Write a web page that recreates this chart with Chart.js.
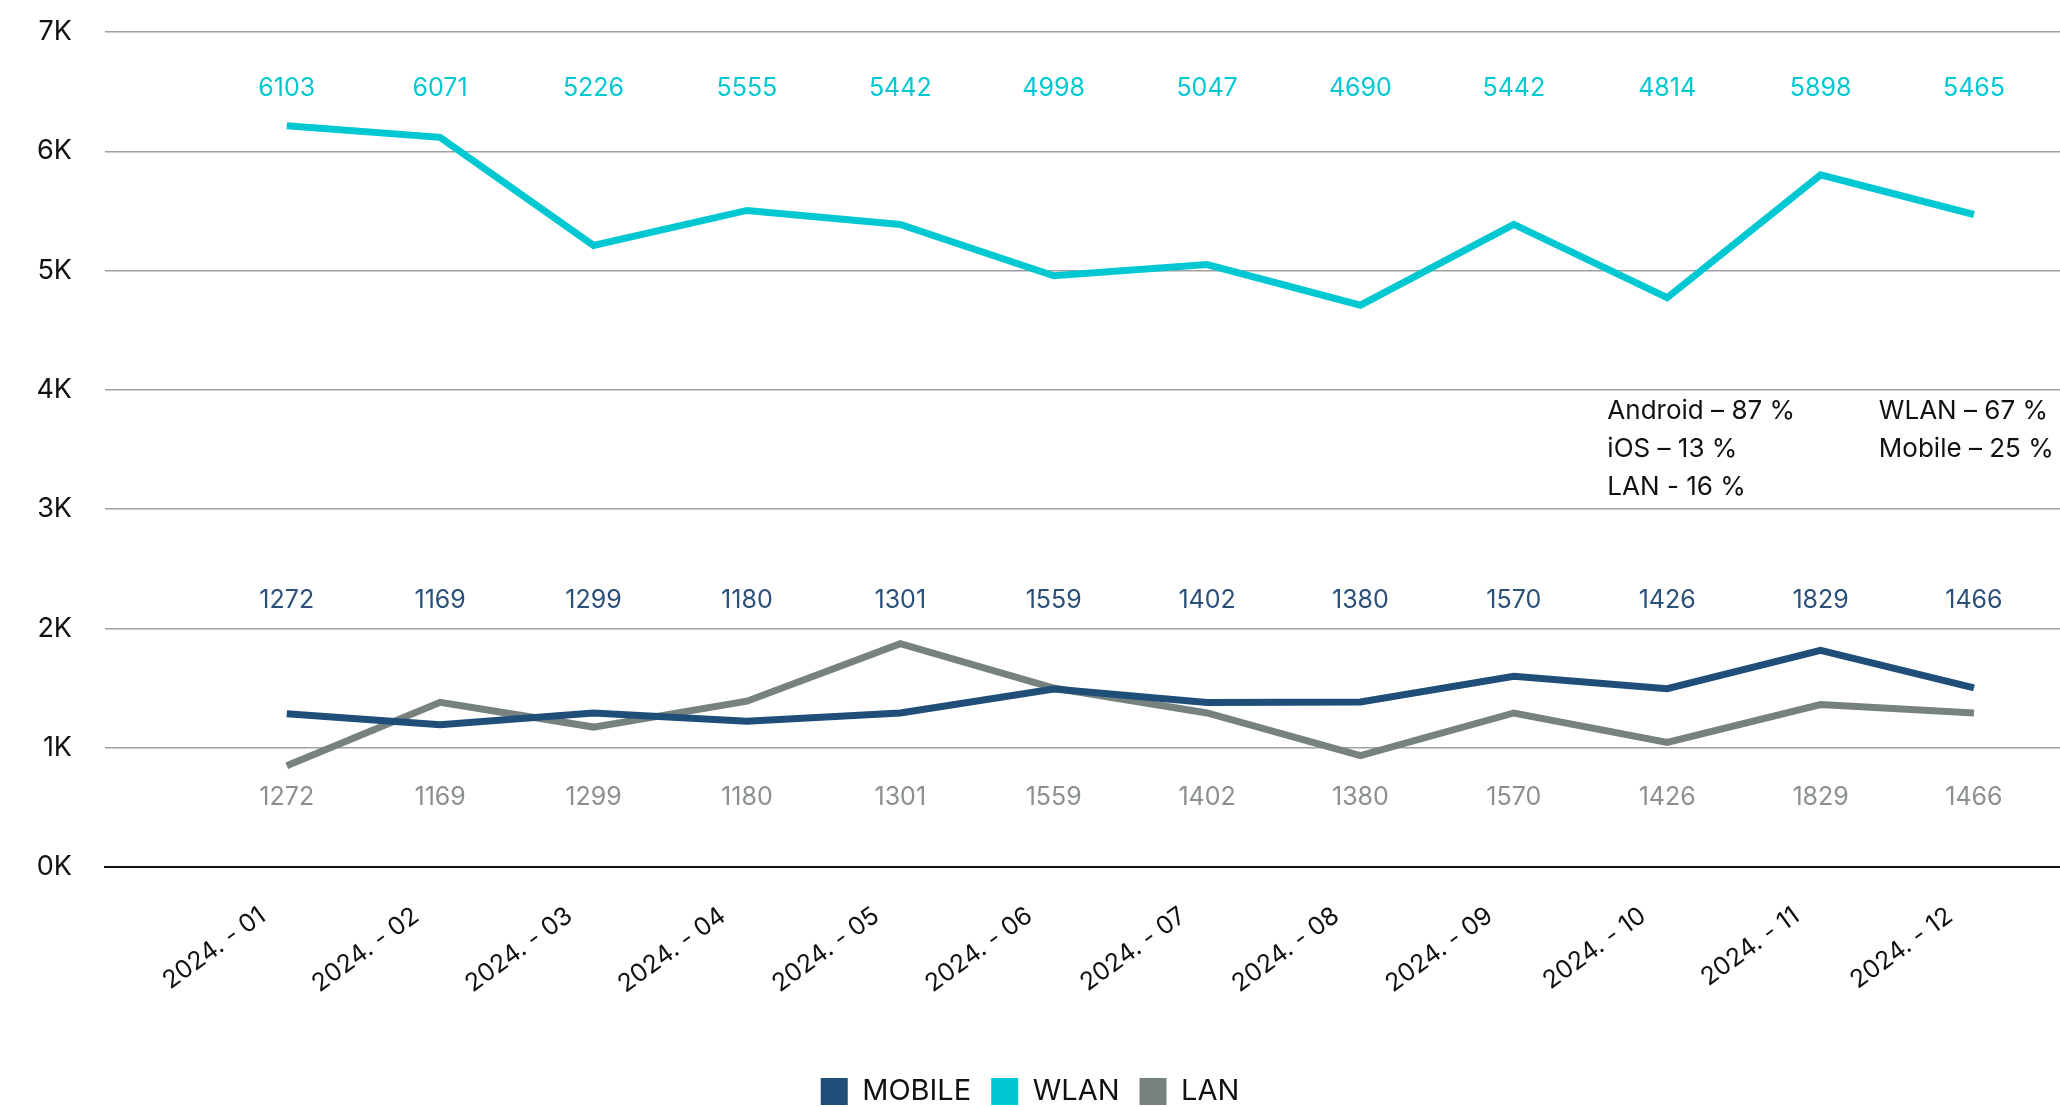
<!DOCTYPE html>
<html>
<head>
<meta charset="utf-8">
<script src="https://cdn.jsdelivr.net/npm/chart.js@4.4.1/dist/chart.umd.min.js"></script>
<style>
  html, body { margin: 0; padding: 0; background: #fff; }
  #wrap { width: 2060px; height: 1107px; position: relative; }
</style>
</head>
<body>
<div id="wrap"><canvas id="trafficChart"></canvas></div>
<script>
// 월별 트래픽 (라인 값은 그림에서 읽은 값, 라벨은 그림에 찍힌 숫자 그대로)
const months = ['2024. - 01', '2024. - 02', '2024. - 03', '2024. - 04', '2024. - 05', '2024. - 06',
                '2024. - 07', '2024. - 08', '2024. - 09', '2024. - 10', '2024. - 11', '2024. - 12'];

const mobileValues = [1285, 1193, 1291, 1221, 1291, 1492, 1380, 1383, 1598, 1495, 1816, 1501];
const wlanValues   = [6214, 6117, 5211, 5504, 5387, 4956, 5050, 4710, 5387, 4772, 5802, 5470];
const lanValues    = [849, 1380, 1173, 1390, 1872, 1500, 1291, 933, 1291, 1045, 1362, 1292];

const mobileLabels = [1272, 1169, 1299, 1180, 1301, 1559, 1402, 1380, 1570, 1426, 1829, 1466];
const wlanLabels   = [6103, 6071, 5226, 5555, 5442, 4998, 5047, 4690, 5442, 4814, 5898, 5465];
const lanLabels    = [1272, 1169, 1299, 1180, 1301, 1559, 1402, 1380, 1570, 1426, 1829, 1466];

const yTicks = [0, 1000, 2000, 3000, 4000, 5000, 6000, 7000];

const noteLeft  = ['Android – 87 %', 'iOS – 13 %', 'LAN - 16 %'];
const noteRight = ['WLAN – 67 %', 'Mobile – 25 %'];

const FONT = 'Inter, "Open Sans", sans-serif';

function toPoints(values) {
    return values.map((v, i) => ({ x: i + 1, y: v }));
}

// 각 시리즈 위/아래에 고정된 줄로 숫자 라벨
const labelRows = [
    { texts: mobileLabels, rowY: 2236, color: '#2b5079' },
    { texts: wlanLabels,   rowY: 6527, color: '#00c8d2' },
    { texts: lanLabels,    rowY: 580,  color: '#8a908e' }
];

const valueLabelPlugin = {
    id: 'valueLabels',
    afterDatasetsDraw(chart) {
        const c = chart.ctx;
        const xs = chart.scales.x;
        const ys = chart.scales.y;
        c.save();
        c.font = '25px ' + FONT;
        c.textAlign = 'center';
        c.textBaseline = 'middle';
        labelRows.forEach(row => {
            c.fillStyle = row.color;
            row.texts.forEach((t, i) => {
                c.fillText(String(t), xs.getPixelForValue(i + 1), ys.getPixelForValue(row.rowY));
            });
        });

        // 오른쪽 비율 메모
        c.fillStyle = '#111';
        c.font = '26px ' + FONT;
        c.textAlign = 'left';
        const top = ys.getPixelForValue(3820);
        const x1 = xs.getPixelForValue(9.61);
        const x2 = xs.getPixelForValue(11.38);
        noteLeft.forEach((t, i) => c.fillText(t, x1, top + i * 38));
        noteRight.forEach((t, i) => c.fillText(t, x2, top + i * 38));
        c.restore();
    }
};

const ctx = document.getElementById('trafficChart').getContext('2d');
const chart = new Chart(ctx, {
    type: 'line',
    data: {
        datasets: [
            { label: 'MOBILE', data: toPoints(mobileValues), borderColor: '#1f4e79', backgroundColor: '#1f4e79' },
            { label: 'WLAN',   data: toPoints(wlanValues),   borderColor: '#00c8d2', backgroundColor: '#00c8d2' },
            { label: 'LAN',    data: toPoints(lanValues),    borderColor: '#77817e', backgroundColor: '#77817e' }
        ]
    },
    options: {
        responsive: true,
        maintainAspectRatio: false,
        animation: false,
        elements: {
            line: { borderWidth: 7, tension: 0, fill: false },
            point: { radius: 0, hoverRadius: 0 }
        },
        layout: { padding: { top: 32, right: 0, left: 0, bottom: -9 } },
        plugins: {
            tooltip: { enabled: false },
            legend: {
                position: 'bottom',
                labels: {
                    boxWidth: 27,
                    boxHeight: 27,
                    padding: 20,
                    color: '#111',
                    font: { family: FONT, size: 29 },
                    generateLabels(ch) {
                        return ch.data.datasets.map((ds, i) => ({
                            text: ds.label,
                            fillStyle: ds.borderColor,
                            strokeStyle: ds.borderColor,
                            lineWidth: 0,
                            fontColor: '#111',
                            hidden: false,
                            datasetIndex: i
                        }));
                    }
                }
            }
        },
        scales: {
            x: {
                type: 'linear',
                min: -0.185,
                max: 12.561,
                grid: { display: false, drawTicks: false },
                border: { display: true, color: '#111', width: 2 },
                afterBuildTicks(scale) {
                    scale.ticks = months.map((_, i) => ({ value: i + 1 }));
                },
                afterFit(scale) { scale.height = 190; },
                ticks: {
                    autoSkip: false,
                    minRotation: 36,
                    maxRotation: 36,
                    padding: 34,
                    labelOffset: -24,
                    color: '#111',
                    font: { family: FONT, size: 25 },
                    callback: (v) => months[v - 1] || ''
                }
            },
            y: {
                min: 0,
                max: 7000,
                afterBuildTicks(scale) {
                    scale.ticks = yTicks.map(v => ({ value: v }));
                },
                afterFit(scale) {
                    scale.width = 105;
                    scale.paddingTop = 0;
                    scale.paddingBottom = 0;
                },
                grid: {
                    drawTicks: false,
                    lineWidth: 1.5,
                    color: (c) => c.tick && c.tick.value === 0 ? '#111' : '#a0a0a0'
                },
                border: { display: false },
                ticks: {
                    padding: 33,
                    color: '#111',
                    font: { family: FONT, size: 27 },
                    callback: (v) => (v / 1000) + 'K'
                }
            }
        }
    },
    plugins: [valueLabelPlugin]
});
</script>
</body>
</html>
